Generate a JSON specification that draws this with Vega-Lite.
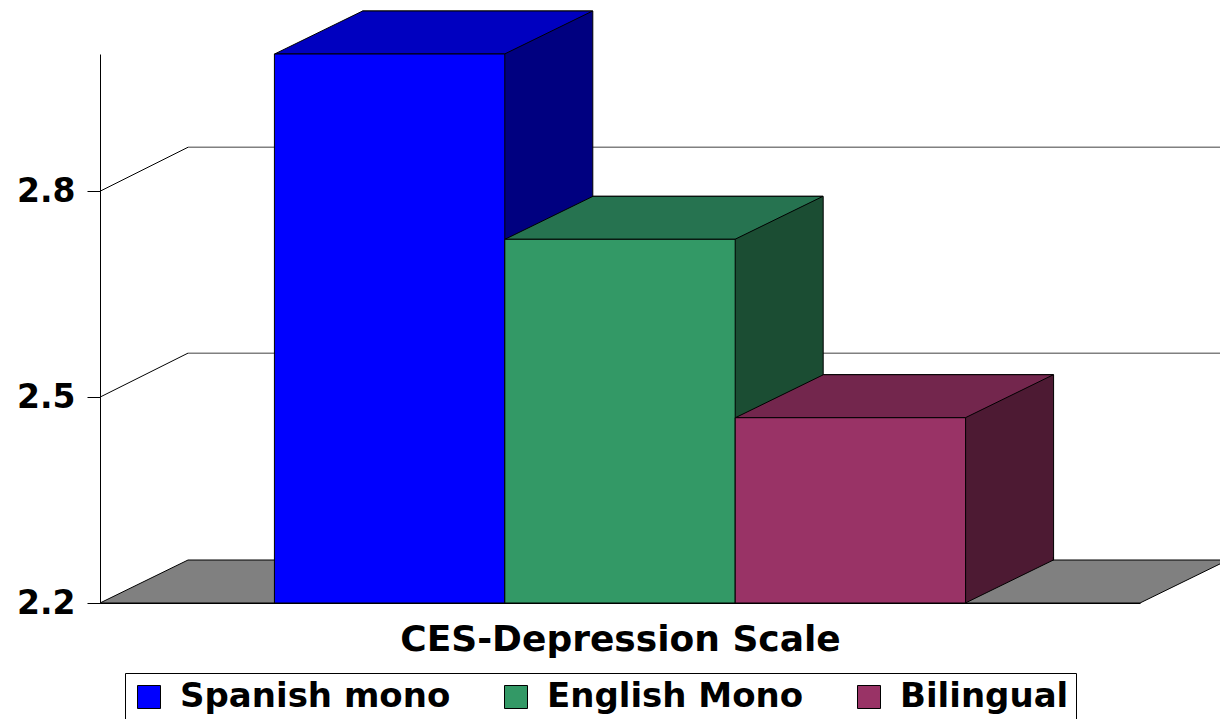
{
  "$schema": "https://vega.github.io/schema/vega-lite/v6.json",
  "width": 1040,
  "height": 549,
  "autosize": {"type": "none"},
  "padding": {"left": 100, "top": 54, "right": 80, "bottom": 116},
  "background": "white",
  "config": {
    "view": {"stroke": null},
    "font": "DejaVu Sans",
    "axisX": {"labels": false, "ticks": false, "grid": false, "domain": true, "domainColor": "black", "domainWidth": 1, "titleFont": "DejaVu Sans", "titleFontSize": 36, "titleFontWeight": "bold", "titleColor": "black", "titlePadding": 19},
    "axisY": {"grid": false, "domain": true, "domainColor": "black", "domainWidth": 1, "ticks": true, "tickSize": 13, "tickColor": "black", "tickWidth": 1, "labelFont": "DejaVu Sans", "labelFontWeight": "bold", "labelFontSize": 33, "labelColor": "black", "labelPadding": 12}
  },
  "datasets": {
    "bars": [
      {"group": "Spanish mono", "value": 3.0},
      {"group": "English Mono", "value": 2.73},
      {"group": "Bilingual", "value": 2.47}
    ],
    "grid": [{"level": 2.5}, {"level": 2.8}]
  },
  "resolve": {"scale": {"fill": "independent"}},
  "layer": [
    {
      "data": {"name": "bars"},
      "transform": [{"filter": "datum.group === 'English Mono'"}],
      "mark": {"type": "point", "shape": "M -520 0 L 520 0 L 608 -43 L -432 -43 Z", "size": 4, "filled": true, "fill": "#808080", "stroke": "black", "strokeWidth": 1, "opacity": 1},
      "encoding": {
        "x": {"field": "group", "type": "nominal", "sort": ["Spanish mono", "English Mono", "Bilingual"], "scale": {"paddingInner": 0, "paddingOuter": 0.757}, "axis": {"title": "CES-Depression Scale"}},
        "y": {"datum": 2.2, "type": "quantitative", "scale": {"domain": [2.2, 3.0], "zero": false, "nice": false}, "axis": {"values": [2.2, 2.5, 2.8], "format": ".1f", "title": null}}
      }
    },
    {
      "data": {"name": "grid"},
      "mark": {"type": "rule", "color": "#808080", "strokeWidth": 1.5, "xOffset": 88, "x2Offset": 188, "yOffset": -44, "y2Offset": -44},
      "encoding": {
        "x": {"value": 0},
        "x2": {"value": 1040},
        "y": {"field": "level", "type": "quantitative", "scale": {"domain": [2.2, 3.0], "zero": false, "nice": false}, "axis": {"values": [2.2, 2.5, 2.8], "format": ".1f", "title": null}},
        "y2": {"field": "level"}
      }
    },
    {
      "data": {"name": "grid"},
      "mark": {"type": "rule", "color": "black", "strokeWidth": 1, "y2Offset": -44},
      "encoding": {
        "x": {"value": 0},
        "x2": {"value": 88},
        "y": {"field": "level", "type": "quantitative", "scale": {"domain": [2.2, 3.0], "zero": false, "nice": false}, "axis": {"values": [2.2, 2.5, 2.8], "format": ".1f", "title": null}},
        "y2": {"field": "level"}
      }
    },
    {
      "data": {"name": "bars"},
      "mark": {"type": "bar", "stroke": "black", "strokeWidth": 1, "xOffset": 88, "x2Offset": 88, "yOffset": -43, "y2Offset": -43},
      "encoding": {
        "x": {"field": "group", "type": "nominal", "sort": ["Spanish mono", "English Mono", "Bilingual"], "scale": {"paddingInner": 0, "paddingOuter": 0.757}, "axis": {"title": "CES-Depression Scale"}},
        "y": {"field": "value", "type": "quantitative", "scale": {"domain": [2.2, 3.0], "zero": false, "nice": false}, "axis": {"values": [2.2, 2.5, 2.8], "format": ".1f", "title": null}},
        "y2": {"datum": 2.2},
        "fill": {"field": "group", "type": "nominal", "scale": {"domain": ["Spanish mono", "English Mono", "Bilingual"], "range": ["#000080", "#1B4D33", "#4D1A33"]}, "legend": null}
      }
    },
    {
      "data": {"name": "bars"},
      "mark": {"type": "point", "shape": "M 115 -46 L 115 0 L 203 -43 L 203 -46", "size": 4, "filled": true, "stroke": "black", "strokeWidth": 1, "opacity": 1},
      "encoding": {
        "x": {"field": "group", "type": "nominal", "sort": ["Spanish mono", "English Mono", "Bilingual"], "scale": {"paddingInner": 0, "paddingOuter": 0.757}, "axis": {"title": "CES-Depression Scale"}},
        "y": {"datum": 2.2, "type": "quantitative", "scale": {"domain": [2.2, 3.0], "zero": false, "nice": false}, "axis": {"values": [2.2, 2.5, 2.8], "format": ".1f", "title": null}},
        "fill": {"field": "group", "type": "nominal", "scale": {"domain": ["Spanish mono", "English Mono", "Bilingual"], "range": ["#000080", "#1B4D33", "#4D1A33"]}, "legend": null}
      }
    },
    {
      "data": {"name": "bars"},
      "mark": {"type": "point", "shape": "M -115 0 L 115 0 L 203 -43 L -27 -43 Z", "size": 4, "filled": true, "stroke": "black", "strokeWidth": 1, "opacity": 1},
      "encoding": {
        "x": {"field": "group", "type": "nominal", "sort": ["Spanish mono", "English Mono", "Bilingual"], "scale": {"paddingInner": 0, "paddingOuter": 0.757}, "axis": {"title": "CES-Depression Scale"}},
        "y": {"field": "value", "type": "quantitative", "scale": {"domain": [2.2, 3.0], "zero": false, "nice": false}, "axis": {"values": [2.2, 2.5, 2.8], "format": ".1f", "title": null}},
        "fill": {"field": "group", "type": "nominal", "scale": {"domain": ["Spanish mono", "English Mono", "Bilingual"], "range": ["#0000C0", "#267350", "#73264D"]}, "legend": null}
      }
    },
    {
      "data": {"name": "bars"},
      "mark": {"type": "bar", "stroke": "black", "strokeWidth": 1},
      "encoding": {
        "x": {"field": "group", "type": "nominal", "sort": ["Spanish mono", "English Mono", "Bilingual"], "scale": {"paddingInner": 0, "paddingOuter": 0.757}, "axis": {"title": "CES-Depression Scale"}},
        "y": {"field": "value", "type": "quantitative", "scale": {"domain": [2.2, 3.0], "zero": false, "nice": false}, "axis": {"values": [2.2, 2.5, 2.8], "format": ".1f", "title": null}},
        "y2": {"datum": 2.2},
        "color": {
          "field": "group", "type": "nominal",
          "scale": {"domain": ["Spanish mono", "English Mono", "Bilingual"], "range": ["#0000FF", "#339966", "#993366"]},
          "legend": {"orient": "none", "legendX": 25, "legendY": 619, "direction": "horizontal", "title": null, "padding": 7, "strokeColor": "black", "fillColor": "white", "symbolType": "square", "symbolSize": 529, "symbolStrokeColor": "black", "symbolStrokeWidth": 1, "symbolOpacity": 1, "labelFont": "DejaVu Sans", "labelFontWeight": "bold", "labelFontSize": 34, "labelColor": "black", "labelOffset": 14, "columnPadding": 48, "labelLimit": 0}
        }
      }
    }
  ]
}
